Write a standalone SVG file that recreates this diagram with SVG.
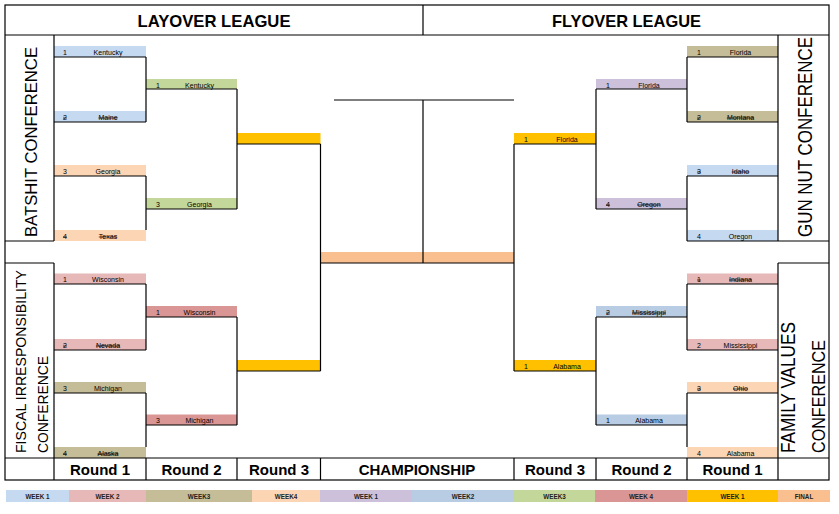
<svg xmlns="http://www.w3.org/2000/svg" width="839" height="514" viewBox="0 0 839 514">
<style>
.ln{stroke:#000;stroke-width:1.2;fill:none}
.t{font-family:"Liberation Sans",Arial,sans-serif;font-size:7px;fill:#000}
.n{text-anchor:middle}
.x{text-decoration:line-through}
.hd{font-family:"Liberation Sans",Arial,sans-serif;font-size:17px;font-weight:bold;text-anchor:middle;fill:#000}
.rd{font-family:"Liberation Sans",Arial,sans-serif;font-size:15px;font-weight:bold;text-anchor:middle;fill:#000}
.cf{font-family:"Liberation Sans",Arial,sans-serif;fill:#000;font-weight:normal}
.lg{font-family:"Liberation Sans",Arial,sans-serif;font-size:6.3px;font-weight:bold;text-anchor:middle;fill:#222}
.c1{fill:#C5D9F1}.c2{fill:#E6B8B7}.c3{fill:#C4BD97}.c4{fill:#FCD5B4}.c5{fill:#CCC0DA}.c6{fill:#B8CCE4}.c7{fill:#C4D79B}.c8{fill:#DA9694}.c9{fill:#FFC000}.c10{fill:#FABF8F}
</style>
<rect width="839" height="514" fill="#fff"/>

<!-- legend -->
<g id="legend">
<rect class="c1" x="6" y="490" width="63" height="12"/><text class="lg" x="37.5" y="498.5">WEEK 1</text>
<rect class="c2" x="69" y="490" width="77" height="12"/><text class="lg" x="107.5" y="498.5">WEEK 2</text>
<rect class="c3" x="146" y="490" width="106" height="12"/><text class="lg" x="199" y="498.5">WEEK3</text>
<rect class="c4" x="252" y="490" width="68" height="12"/><text class="lg" x="286" y="498.5">WEEK4</text>
<rect class="c5" x="320" y="490" width="92" height="12"/><text class="lg" x="366" y="498.5">WEEK 1</text>
<rect class="c6" x="412" y="490" width="102" height="12"/><text class="lg" x="463" y="498.5">WEEK2</text>
<rect class="c7" x="514" y="490" width="81" height="12"/><text class="lg" x="554.5" y="498.5">WEEK3</text>
<rect class="c8" x="595" y="490" width="92" height="12"/><text class="lg" x="641" y="498.5">WEEK 4</text>
<rect class="c9" x="687" y="490" width="91" height="12"/><text class="lg" x="732.5" y="498.5">WEEK 1</text>
<rect class="c10" x="778" y="490" width="52" height="12"/><text class="lg" x="804" y="498.5">FINAL</text>
</g>

<!-- cells: left round 1 -->
<g id="L1-kentucky"><rect class="c1" x="54" y="46" width="92" height="11"/><text class="t" x="63" y="55">1</text><text class="t n" x="108" y="55">Kentucky</text></g>
<g id="L1-maine"><rect class="c1" x="54" y="111" width="92" height="11"/><text class="t x" x="63" y="120">2</text><text class="t n x" x="108" y="120">Maine</text></g>
<g id="L1-georgia"><rect class="c4" x="54" y="165" width="92" height="11"/><text class="t" x="63" y="174">3</text><text class="t n" x="108" y="174">Georgia</text></g>
<g id="L1-texas"><rect class="c4" x="54" y="230" width="92" height="11"/><text class="t x" x="63" y="239">4</text><text class="t n x" x="108" y="239">Texas</text></g>
<g id="L1-wisconsin"><rect class="c2" x="54" y="273.5" width="92" height="10.5"/><text class="t" x="63" y="282">1</text><text class="t n" x="108" y="282">Wisconsin</text></g>
<g id="L1-nevada"><rect class="c2" x="54" y="339" width="92" height="11"/><text class="t x" x="63" y="348">2</text><text class="t n x" x="108" y="348">Nevada</text></g>
<g id="L1-michigan"><rect class="c3" x="54" y="382" width="92" height="11"/><text class="t" x="63" y="391">3</text><text class="t n" x="108" y="391">Michigan</text></g>
<g id="L1-alaska"><rect class="c3" x="54" y="447" width="92" height="11"/><text class="t x" x="63" y="456">4</text><text class="t n x" x="108" y="456">Alaska</text></g>

<!-- left round 2 -->
<g id="L2-kentucky"><rect class="c7" x="146" y="79" width="91" height="10"/><text class="t" x="156" y="87.5">1</text><text class="t n" x="199.5" y="87.5">Kentucky</text></g>
<g id="L2-georgia"><rect class="c7" x="146" y="198" width="91" height="11"/><text class="t" x="156" y="207">3</text><text class="t n" x="199.5" y="207">Georgia</text></g>
<g id="L2-wisconsin"><rect class="c8" x="146" y="306" width="91" height="11"/><text class="t" x="156" y="315">1</text><text class="t n" x="199.5" y="315">Wisconsin</text></g>
<g id="L2-michigan"><rect class="c8" x="146" y="414.5" width="91" height="10.5"/><text class="t" x="156" y="423">3</text><text class="t n" x="199.5" y="423">Michigan</text></g>

<!-- left round 3 -->
<g id="L3-top"><rect class="c9" x="237" y="133" width="83.5" height="11"/></g>
<g id="L3-bottom"><rect class="c9" x="237" y="360" width="83.5" height="11"/></g>

<!-- final -->
<g id="final"><rect class="c10" x="320.5" y="252" width="193.5" height="11"/></g>

<!-- right round 3 -->
<g id="R3-florida"><rect class="c9" x="514" y="133" width="82" height="11"/><text class="t" x="524" y="142">1</text><text class="t n" x="567" y="142">Florida</text></g>
<g id="R3-alabama"><rect class="c9" x="514" y="360" width="82" height="11"/><text class="t" x="524" y="369">1</text><text class="t n" x="567" y="369">Alabama</text></g>

<!-- right round 2 -->
<g id="R2-florida"><rect class="c5" x="596" y="79" width="91" height="10"/><text class="t" x="606" y="87.5">1</text><text class="t n" x="649" y="87.5">Florida</text></g>
<g id="R2-oregon"><rect class="c5" x="596" y="198" width="91" height="11"/><text class="t x" x="606" y="207">4</text><text class="t n x" x="649" y="207">Oregon</text></g>
<g id="R2-mississippi"><rect class="c6" x="596" y="306" width="91" height="11"/><text class="t x" x="606" y="315">2</text><text class="t n x" x="649" y="315">Mississippi</text></g>
<g id="R2-alabama"><rect class="c6" x="596" y="414.5" width="91" height="10.5"/><text class="t" x="606" y="423">1</text><text class="t n" x="649" y="423">Alabama</text></g>

<!-- right round 1 -->
<g id="R1-florida"><rect class="c3" x="687" y="46" width="91" height="11"/><text class="t" x="697" y="55">1</text><text class="t n" x="740.5" y="55">Florida</text></g>
<g id="R1-montana"><rect class="c3" x="687" y="111" width="91" height="11"/><text class="t x" x="697" y="120">2</text><text class="t n x" x="740.5" y="120">Montana</text></g>
<g id="R1-idaho"><rect class="c1" x="687" y="165" width="91" height="11"/><text class="t x" x="697" y="174">3</text><text class="t n x" x="740.5" y="174">Idaho</text></g>
<g id="R1-oregon"><rect class="c1" x="687" y="230" width="91" height="11"/><text class="t" x="697" y="239">4</text><text class="t n" x="740.5" y="239">Oregon</text></g>
<g id="R1-indiana"><rect class="c2" x="687" y="273.5" width="91" height="10.5"/><text class="t x" x="697" y="282">1</text><text class="t n x" x="740.5" y="282">Indiana</text></g>
<g id="R1-mississippi"><rect class="c2" x="687" y="339" width="91" height="11"/><text class="t" x="697" y="348">2</text><text class="t n" x="740.5" y="348">Mississippi</text></g>
<g id="R1-ohio"><rect class="c4" x="687" y="382" width="91" height="11"/><text class="t x" x="697" y="391">3</text><text class="t n x" x="740.5" y="391">Ohio</text></g>
<g id="R1-alabama"><rect class="c4" x="687" y="447" width="91" height="11"/><text class="t" x="697" y="456">4</text><text class="t n" x="740.5" y="456">Alabama</text></g>

<!-- frame -->
<g id="frame" class="ln">
<rect x="5" y="5" width="824" height="475"/>
<path d="M5 35H829M423 5V35"/>
<path d="M54 35V241M5 241H54M5 263H54M54 263V480"/>
<path d="M778 35V241M778 241H829M778 263H829M778 263V480"/>
<path d="M5 458H829M146 458V480M237 458V480M320.5 458V480M514 458V480M596 458V480M687 458V480"/>
</g>

<!-- connectors -->
<g id="connectors" class="ln">
<path d="M54 57H146M146 57V122M54 122H146M54 176H146M146 176V230"/>
<path d="M146 89H237M237 89V209M146 209H237"/>
<path d="M237 144H320.5M320.5 144V371M237 371H320.5"/>
<path d="M54 284H146M146 284V350M54 350H146M54 393H146M146 393V447"/>
<path d="M146 317H237M237 317V425M146 425H237"/>
<path d="M320.5 263H514M423 100V263M334 100H514"/>
<path d="M514 144H596M514 144V371M514 371H596"/>
<path d="M596 89H687M596 89V209M596 209H687M596 317H687M596 317V425M596 425H687"/>
<path d="M687 57H778M687 57V122M687 122H778M687 176H778M687 176V241M687 241H778"/>
<path d="M687 284H778M687 284V350M687 350H778M687 393H778M687 393V447"/>
</g>

<!-- headings -->
<g id="headers">
<text class="hd" x="214" y="27" textLength="153" lengthAdjust="spacingAndGlyphs">LAYOVER LEAGUE</text>
<text class="hd" x="626.5" y="27" textLength="149" lengthAdjust="spacingAndGlyphs">FLYOVER LEAGUE</text>
</g>

<g id="conferences">
<text class="cf" font-size="16.5" text-anchor="middle" transform="translate(37,142) rotate(-90)" textLength="190" lengthAdjust="spacingAndGlyphs">BATSHIT CONFERENCE</text>
<text class="cf" font-size="15" transform="translate(26,453) rotate(-90)" textLength="183" lengthAdjust="spacingAndGlyphs">FISCAL IRRESPONSIBILITY</text>
<text class="cf" font-size="15.5" transform="translate(48,453) rotate(-90)" textLength="97" lengthAdjust="spacingAndGlyphs">CONFERENCE</text>
<text class="cf" font-size="20" text-anchor="middle" transform="translate(812,137) rotate(-90)" textLength="200" lengthAdjust="spacingAndGlyphs">GUN NUT CONFERENCE</text>
<text class="cf" font-size="20" transform="translate(795,453) rotate(-90)" textLength="131" lengthAdjust="spacingAndGlyphs">FAMILY VALUES</text>
<text class="cf" font-size="18.5" transform="translate(825,453) rotate(-90)" textLength="113" lengthAdjust="spacingAndGlyphs">CONFERENCE</text>
</g>

<g id="rounds">
<text class="rd" x="100" y="475">Round 1</text>
<text class="rd" x="191.5" y="475">Round 2</text>
<text class="rd" x="279" y="475">Round 3</text>
<text class="rd" x="417" y="475" font-weight="normal" font-size="14">CHAMPIONSHIP</text>
<text class="rd" x="555" y="475">Round 3</text>
<text class="rd" x="641.5" y="475">Round 2</text>
<text class="rd" x="732.5" y="475">Round 1</text>
</g>
</svg>
